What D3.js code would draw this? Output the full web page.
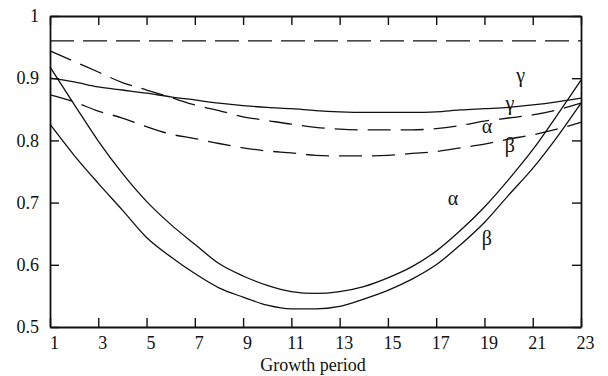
<!DOCTYPE html>
<html><head><meta charset="utf-8">
<script src="https://cdn.jsdelivr.net/npm/d3@7"></script>
<style>body{margin:0;background:#fff}svg{display:block}text{font-family:"Liberation Serif","Times New Roman",serif;fill:#111}</style>
</head><body><div id="chart"></div>
<script>
const periods = d3.range(1, 24);
const xTicks = [1,3,5,7,9,11,13,15,17,19,21,23];
const yTicks = [0.5,0.6,0.7,0.8,0.9,1];
const gammaDashed = [0.960,0.960,0.960,0.960,0.960,0.960,0.960,0.960,0.960,0.960,0.960,0.960,0.960,0.960,0.960,0.960,0.960,0.960,0.960,0.960,0.960,0.960,0.960];
const gammaSolid = [0.900,0.894,0.886,0.881,0.876,0.870,0.865,0.860,0.856,0.853,0.851,0.848,0.846,0.845,0.845,0.845,0.846,0.849,0.851,0.853,0.857,0.862,0.868];
const alphaDashed = [0.944,0.927,0.910,0.893,0.881,0.869,0.857,0.848,0.838,0.832,0.826,0.821,0.818,0.817,0.817,0.817,0.819,0.824,0.831,0.836,0.841,0.849,0.860];
const betaDashed = [0.873,0.862,0.847,0.836,0.822,0.810,0.803,0.795,0.788,0.783,0.780,0.776,0.775,0.775,0.776,0.779,0.782,0.788,0.794,0.802,0.809,0.818,0.829];
const alphaSolid = [0.918,0.858,0.799,0.747,0.702,0.665,0.633,0.602,0.582,0.567,0.557,0.554,0.557,0.565,0.579,0.597,0.622,0.655,0.693,0.737,0.785,0.840,0.897];
const betaSolid = [0.826,0.776,0.731,0.688,0.644,0.613,0.586,0.563,0.548,0.535,0.529,0.529,0.533,0.545,0.559,0.577,0.600,0.632,0.668,0.712,0.755,0.805,0.860];
const labels = [
  {text:"γ", t:20.5, v:0.905},
  {text:"γ", t:20.05, v:0.86},
  {text:"α", t:19.1, v:0.8225},
  {text:"β", t:20.05, v:0.7925},
  {text:"α", t:17.7, v:0.7075},
  {text:"β", t:19.1, v:0.643}
];

const W = 608, H = 376;
const m = {l:50, r:27, t:16, b:49};
const svg = d3.select("#chart").append("svg").attr("width", W).attr("height", H);
const x = d3.scaleLinear().domain([1,23]).range([m.l, W - m.r]);
const y = d3.scaleLinear().domain([0.5,1]).range([H - m.b, m.t]);
const tl = 9;

const series = [
  {vals: gammaDashed, dash: "24,9"},
  {vals: gammaSolid, dash: null},
  {vals: alphaDashed, dash: "23,10"},
  {vals: betaDashed, dash: "23,10"},
  {vals: alphaSolid, dash: null},
  {vals: betaSolid, dash: null}
];
const line = d3.line().x((d,i) => x(periods[i])).y(d => y(d)).curve(d3.curveMonotoneX);
svg.append("g").selectAll("path").data(series).join("path")
  .attr("d", d => line(d.vals))
  .attr("fill", "none").attr("stroke", "#111").attr("stroke-width", 1.3)
  .attr("stroke-dasharray", d => d.dash);

const fmtY = d => d === 1 ? "1" : d3.format(".1f")(d);
const gBottom = svg.append("g").attr("transform", `translate(0,${H - m.b})`)
  .call(d3.axisBottom(x).tickValues(xTicks).tickSizeInner(-tl).tickSizeOuter(0).tickPadding(9).tickFormat(d3.format("d")));
gBottom.selectAll("text").attr("dx", 4);
const gTop = svg.append("g").attr("transform", `translate(0,${m.t})`)
  .call(d3.axisTop(x).tickValues(xTicks).tickSizeInner(-tl).tickSizeOuter(0).tickFormat(""));
const gLeft = svg.append("g").attr("transform", `translate(${m.l},0)`)
  .call(d3.axisLeft(y).tickValues(yTicks).tickSizeInner(-tl).tickSizeOuter(0).tickPadding(11).tickFormat(fmtY));
const gRight = svg.append("g").attr("transform", `translate(${W - m.r},0)`)
  .call(d3.axisRight(y).tickValues(yTicks).tickSizeInner(-tl).tickSizeOuter(0).tickFormat(""));
[gBottom, gTop, gLeft, gRight].forEach(g => {
  g.attr("font-family", null);
  g.selectAll(".domain").attr("stroke", "#111").attr("stroke-width", 1.8);
  g.selectAll(".tick line").attr("stroke", "#111").attr("stroke-width", 1.4);
  g.selectAll("text").attr("font-size", 18).attr("fill", "#111");
});

svg.append("text").attr("x", 313).attr("y", 371).attr("text-anchor", "middle")
  .attr("font-size", 18).text("Growth period");

svg.append("g").selectAll("text").data(labels).join("text")
  .attr("x", d => x(d.t)).attr("y", d => y(d.v)).attr("dy", "0.35em")
  .attr("text-anchor", "middle").attr("font-size", 20).text(d => d.text);
</script></body></html>
